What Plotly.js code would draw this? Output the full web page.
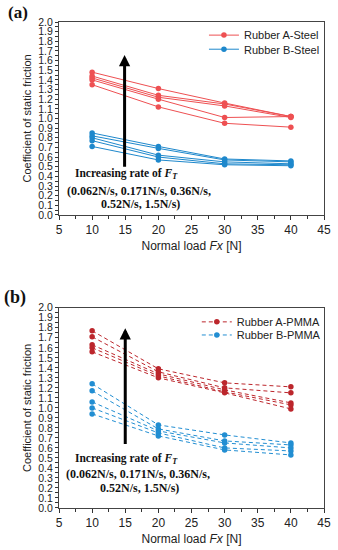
<!DOCTYPE html>
<html>
<head>
<meta charset="utf-8">
<script src="https://cdn.plot.ly/plotly-3.0.1.min.js"></script>
<style>html,body{margin:0;padding:0;background:#fff;}#chart{width:338px;height:550px;}</style>
</head>
<body>
<div id="chart"></div>
<script>
// Normal load Fx [N]
const loads = [10, 20, 30, 40];
// Coefficient of static friction, one row per loading rate
const steelA = [
  [1.48, 1.31, 1.16, 1.02],
  [1.44, 1.24, 1.15, 1.02],
  [1.42, 1.22, 1.13, 1.01],
  [1.40, 1.20, 1.01, 1.02],
  [1.35, 1.12, 0.95, 0.91]
];
const steelB = [
  [0.85, 0.71, 0.58, 0.56],
  [0.82, 0.69, 0.57, 0.55],
  [0.80, 0.62, 0.55, 0.53],
  [0.77, 0.60, 0.53, 0.52],
  [0.71, 0.57, 0.52, 0.51]
];
const pmmaA = [
  [1.77, 1.39, 1.25, 1.21],
  [1.71, 1.36, 1.20, 1.15],
  [1.63, 1.34, 1.18, 1.05],
  [1.60, 1.32, 1.16, 1.03],
  [1.56, 1.30, 1.15, 0.99]
];
const pmmaB = [
  [1.24, 0.83, 0.73, 0.65],
  [1.17, 0.79, 0.67, 0.63],
  [1.06, 0.77, 0.65, 0.60],
  [1.00, 0.75, 0.60, 0.57],
  [0.94, 0.72, 0.58, 0.53]
];
const seriesNames = ['Rubber A-Steel', 'Rubber B-Steel', 'Rubber A-PMMA', 'Rubber B-PMMA'];
const xTickVals = [5, 10, 15, 20, 25, 30, 35, 40, 45];

const cRedA = 'rgb(238,80,82)';
const cBlueA = 'rgb(30,136,204)';
const cRedB = 'rgb(188,38,44)';
const cBlueB = 'rgb(34,142,210)';

const traces = [];
function addGroup(rows, name, color, dash, xa, ya, legendId) {
  rows.forEach((r, i) => {
    traces.push({
      x: loads, y: r, type: 'scatter', mode: 'lines+markers',
      name: name, legendgroup: name, showlegend: i === 0, legend: legendId,
      xaxis: xa, yaxis: ya,
      line: {color: color, width: 1, dash: dash},
      marker: {color: color, size: 5.5, symbol: 'circle'}
    });
  });
}
addGroup(steelA, seriesNames[0], cRedA, 'solid', 'x', 'y', 'legend');
addGroup(steelB, seriesNames[1], cBlueA, 'solid', 'x', 'y', 'legend2');
addGroup(pmmaA, seriesNames[2], cRedB, '4px,3px', 'x2', 'y2', 'legend3');
addGroup(pmmaB, seriesNames[3], cBlueB, '4px,3px', 'x2', 'y2', 'legend4');

const tickFont = {family: 'Liberation Sans, Arial, sans-serif', size: 10.5, color: '#222'};
const xTickFont = {family: 'Liberation Sans, Arial, sans-serif', size: 12, color: '#222'};
function xAxis(anchor) {
  return {
    anchor: anchor, domain: [0, 1], range: [5, 45], tickvals: xTickVals,
    ticks: 'outside', ticklen: 4, tickwidth: 1, tickcolor: '#333',
    minor: {dtick: 2.5, ticks: 'outside', ticklen: 3, tickcolor: '#333', showgrid: false},
    showline: true, mirror: true, linecolor: '#444', linewidth: 1,
    showgrid: false, zeroline: false, tickfont: xTickFont, automargin: false,
    title: {text: 'Normal load <i>Fx</i> [N]', font: {family: 'Liberation Sans, Arial, sans-serif', size: 12, color: '#222'}, standoff: 5}
  };
}
function yAxis(anchor, domain) {
  return {
    anchor: anchor, domain: domain, range: [0, 2.0], dtick: 0.1, tick0: 0, tickformat: '.1f',
    ticks: 'outside', ticklen: 3, tickwidth: 1, tickcolor: '#333',
    minor: {dtick: 0.05, ticks: 'outside', ticklen: 3, tickcolor: '#333', showgrid: false},
    showline: true, mirror: true, linecolor: '#444', linewidth: 1,
    showgrid: false, zeroline: false, tickfont: tickFont, automargin: false,
    title: {text: 'Coefficient of static friction', font: {family: 'Liberation Sans, Arial, sans-serif', size: 11, color: '#222'}, standoff: 4}
  };
}
const legFont = {family: 'Liberation Sans, Arial, sans-serif', size: 11, color: '#222'};
function leg(x, y) {
  return {x: x, y: y, xanchor: 'left', yanchor: 'middle', bgcolor: 'rgba(0,0,0,0)', borderwidth: 0, font: legFont, itemwidth: 30};
}
const serif = 'Liberation Serif, Times New Roman, serif';
function note(text, x, y, xr, yr, size) {
  return {text: text, x: x, y: y, xref: xr, yref: yr, showarrow: false, xanchor: 'center', yanchor: 'middle',
    font: {family: serif, size: size, color: '#111'}};
}
function arrow(x, y0, y1, xr, yr) {
  return {x: x, y: y1, ax: x, ay: y0, xref: xr, yref: yr, axref: xr, ayref: yr, text: '',
    showarrow: true, arrowhead: 2, arrowsize: 0.75, arrowwidth: 3, arrowcolor: '#000'};
}
const line1 = '<b>Increasing rate of <i>F</i><sub><i>T</i></sub></b>';
const line2 = '<b>(0.062N/s, 0.171N/s, 0.36N/s,</b>';
const line3 = '<b>0.52N/s, 1.5N/s)</b>';

const layout = {
  width: 338, height: 550,
  margin: {l: 59, r: 12, t: 22, b: 42},
  paper_bgcolor: '#fff', plot_bgcolor: '#fff',
  xaxis: xAxis('y'), yaxis: yAxis('x', [0.603, 1]),
  xaxis2: xAxis('y2'), yaxis2: yAxis('x2', [0, 0.412]),
  legend: leg(0.547, 0.973),
  legend2: leg(0.547, 0.944),
  legend3: leg(0.52, 0.383),
  legend4: leg(0.52, 0.356),
  annotations: [
    arrow(14.9, 0.485, 1.658, 'x', 'y'),
    arrow(15.0, 0.624, 1.795, 'x2', 'y2'),
    note(line1, 15.2, 0.42, 'x', 'y', 11.5),
    note(line2, 17.0, 0.25, 'x', 'y', 12),
    note(line3, 17.3, 0.11, 'x', 'y', 12),
    note(line1, 15.2, 0.49, 'x2', 'y2', 11.5),
    note(line2, 16.9, 0.34, 'x2', 'y2', 12),
    note(line3, 17.1, 0.20, 'x2', 'y2', 12),
    note('<b>(a)</b>', -0.155, 1.0195, 'paper', 'paper', 17),
    note('<b>(b)</b>', -0.165, 0.433, 'paper', 'paper', 18)
  ],
  showlegend: true
};
Plotly.newPlot('chart', traces, layout, {displayModeBar: false, staticPlot: true});
</script>
</body>
</html>
